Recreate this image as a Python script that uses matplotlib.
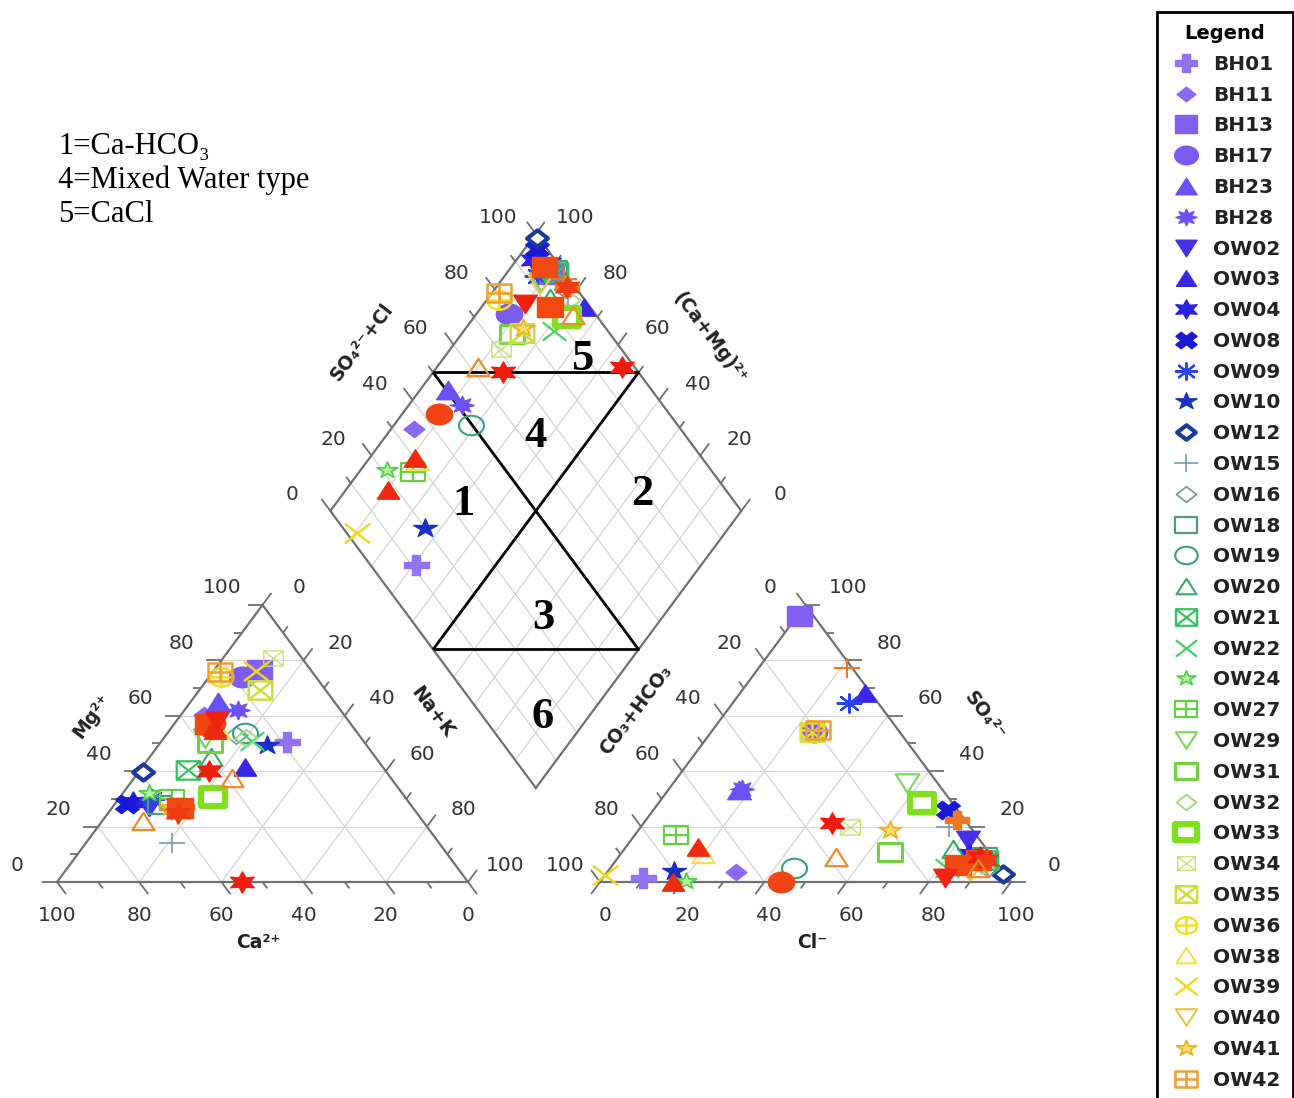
import numpy as np
import matplotlib
matplotlib.use("Agg")
import matplotlib.pyplot as plt
from matplotlib.path import Path
from matplotlib.markers import MarkerStyle

# ---------------------------------------------------------------- data (meq %)
samples = ["BH01", "BH11", "BH13", "BH17", "BH23", "BH28", "OW02", "OW03",
           "OW04", "OW08", "OW09", "OW10", "OW12", "OW15", "OW16", "OW18",
           "OW19", "OW20", "OW21", "OW22", "OW24", "OW27", "OW29", "OW31",
           "OW32", "OW33", "OW34", "OW35", "OW36", "OW38", "OW39", "OW40",
           "OW41", "OW42"]
mg = [50.7, 60.3, 76.5, 74.0, 65.0, 62.0, 27.0, 41.6, 29.0, 28.0, 30.0, 49.5,
      39.8, 14.0, 53.0, 27.8, 53.8, 45.0, 40.4, 51.0, 32.0, 30.0, 52.0, 50.2,
      52.0, 30.8, 80.7, 69.3, 74.0, 55.0, 76.0, 55.0, 27.0, 75.9]
na_k = [30.6, 5.5, 11.0, 8.0, 6.7, 13.0, 9.0, 24.9, 4.0, 3.0, 8.0, 26.3,
        1.1, 20.9, 17.0, 11.2, 18.8, 15.0, 11.7, 22.0, 6.4, 12.9, 10.0, 12.1,
        20.0, 22.6, 12.3, 14.7, 3.0, 12.0, 10.5, 10.0, 14.0, 1.7]
so4 = [1.3, 3.7, 96.0, 54.0, 33.2, 33.5, 15.2, 68.1, 10.0, 26.0, 64.5, 4.0,
       3.0, 20.0, 5.0, 9.1, 4.9, 12.0, 8.0, 5.0, 0.5, 17.0, 35.6, 10.9,
       6.0, 28.4, 19.9, 54.3, 55.0, 10.0, 2.5, 4.0, 18.8, 55.0]
cl = [9.8, 31.3, 0.5, 25.0, 17.3, 17.8, 82.0, 30.5, 84.7, 71.7, 28.3, 16.0,
      96.5, 75.0, 92.0, 89.1, 44.8, 80.0, 90.0, 82.0, 20.6, 10.1, 56.9, 65.2,
      90.0, 64.1, 51.0, 24.5, 24.0, 20.0, 0.0, 88.0, 61.2, 25.5]

# further samples of the series (drawn, listed further down the key)
extra_mg = [27.0, 26.0, 26.7, 57.0, 57.4, 56.0, 55.0, 58.0, 0.0, 40.0, 25.0, 22.0, 37.4]
extra_na_k = [17.0, 15.0, 16.6, 8.0, 9.0, 10.3, 11.0, 10.0, 45.0, 17.0, 17.0, 10.0, 23.8]
extra_so4 = [22.4, 77.1, 6.1, 8.0, 0.0, 0.0, 12.7, 1.3, 9.0, 21.2, 8.0, 9.1, 5.0]
extra_cl = [75.6, 21.6, 84.1, 88.0, 44.0, 17.7, 17.4, 83.3, 88.0, 45.9, 90.0, 52.8, 89.5]

ticks = [0, 20, 40, 60, 80, 100]
notes = ["1=Ca-HCO\u2083", "4=Mixed Water type", "5=CaCl"]
region_labels = ["1", "2", "3", "4", "5", "6"]
region_c = [0.69, 0.27, 0.29, 0.635, 0.66, 0.11]   # (Ca+Mg) fraction
region_a = [0.336, 0.79, 0.325, 0.635, 0.887, 0.145]  # (SO4+Cl) fraction

# ---------------------------------------------------------------- styles
colors = ["#9372f2", "#8a68f0", "#8460f0", "#7d5af0", "#6c4ff0", "#6a52f2",
          "#4630e8", "#3828e4", "#2a22e0", "#1a1ad6", "#2a44f2", "#1a30c4",
          "#1c3a9c", "#7a98b8", "#72a29e", "#4a9a88", "#38a272", "#3aaa66",
          "#3ac060", "#44d062", "#4cd048", "#62d040", "#7ad85a", "#70d240",
          "#a6d88e", "#80e020", "#c4e474", "#c8e040", "#f2e020", "#f2e244",
          "#f0d820", "#f0c040", "#f0b020", "#f0a030"]
extra_colors = ["#f07820", "#f07828", "#f04a12", "#f04a12", "#f04414", "#ee2a10",
                "#ee2a10", "#f02212", "#f01c10", "#f01c10", "#f03a10", "#ee8a2a",
                "#ee8a2a"]


def _sq():
    return Path([[-.5, -.5], [.5, -.5], [.5, .5], [-.5, .5], [-.5, -.5]],
                [Path.MOVETO, Path.LINETO, Path.LINETO, Path.LINETO, Path.CLOSEPOLY])


_cross_x = Path([[-.5, -.5], [.5, .5], [-.5, .5], [.5, -.5]],
                [Path.MOVETO, Path.LINETO, Path.MOVETO, Path.LINETO])
_cross_p = Path([[0, -.5], [0, .5], [-.5, 0], [.5, 0]],
                [Path.MOVETO, Path.LINETO, Path.MOVETO, Path.LINETO])
_circ = Path(Path.unit_circle().vertices * 0.5, Path.unit_circle().codes)

boxtimes = Path.make_compound_path(_sq(), _cross_x)
boxplus = Path.make_compound_path(_sq(), _cross_p)
circplus = Path.make_compound_path(_circ, _cross_p)


def squash(spec, ky=0.78):
    """Marker path flattened vertically to follow the diagram's aspect."""
    if isinstance(spec, Path):
        p = spec
    else:
        m = MarkerStyle(spec)
        p = m.get_path().transformed(m.get_transform())
    return Path(p.vertices * np.array([1.0, ky]), p.codes)


# (marker, filled, size, edge width)
styles = [
    ("P", True, 18, 1), ("D", True, 15, 1), ("s", True, 18, 1), ("o", True, 19, 1),
    ("^", True, 17, 1), ((8, 1, 0), True, 17, 1), ("v", True, 17, 1), ("^", True, 16, 1),
    ((6, 1, 0), True, 17, 1), ("X", True, 17, 1), ((8, 2, 0), False, 17, 1.6),
    ("*", True, 17, 1), ("D", "white", 15, 3.0), ("+", False, 19, 1.2),
    ("D", False, 16, 1.3), ("s", False, 17, 1.6), ("o", False, 18, 1.5),
    ("^", False, 16, 1.5), (boxtimes, False, 17, 1.6), ("x", False, 17, 1.6),
    ("*", "#b8f0a0", 15, 1.2), (boxplus, False, 17, 1.6), ("v", False, 17, 1.6),
    ("s", False, 17, 2.2), ("D", False, 16, 1.5), ("s", "white", 17, 4.5),
    (boxtimes, False, 14, 1.0), (boxtimes, False, 17, 1.8), (circplus, False, 17, 1.8),
    ("^", False, 16, 1.5), ("x", False, 18, 1.8), ("v", False, 17, 1.5),
    ("*", "#f8e070", 16, 1.3), (boxplus, False, 17, 1.8)]
extra_styles = [
    ("P", True, 17, 1), ("+", False, 19, 1.6), ("s", True, 19, 1), ("s", True, 18, 1),
    ("o", True, 19, 1), ("^", True, 16, 1), ("^", True, 16, 1), ("v", True, 17, 1),
    ((6, 1, 0), True, 17, 1), ((6, 1, 0), True, 17, 1), ((6, 1, 0), True, 17, 1),
    ("^", False, 16, 1.6), ("^", False, 16, 1.6)]

# ---------------------------------------------------------------- geometry
H = np.sqrt(3) / 2
GAP = 0.321               # spacing between the two triangles (side = 1)
DX, DY = 1.165, 0.294     # lower vertex of the diamond


def cat_xy(m, n):
    return n / 100 + 0.5 * m / 100, H * m / 100


def an_xy(s, c):
    return 1 + GAP + c / 100 + 0.5 * s / 100, H * s / 100


def dia_xy(c, a):
    return DX + 0.5 * (a - c), DY + H * (c + a)


plt.rcParams["font.family"] = ["DejaVu Sans"]
fig = plt.figure(figsize=(12.94, 10.98), dpi=100)
ax = fig.add_axes([0, 0, 1, 1])
ax.set_xlim(-0.1387, 3.0097)
ax.set_ylim(-0.6752, 2.7571)
ax.axis("off")

SX = 1294 / (3.0097 + 0.1387)      # pixels per unit, x
SY = 1098 / (2.7571 + 0.6752)      # pixels per unit, y

EDGE = "#707070"
GRID = "#d4d4d4"
TXT = "#333333"


def seg(p, q, **kw):
    ax.plot([p[0], q[0]], [p[1], q[1]], solid_capstyle="butt", **kw)


def tick(p, d, v):
    length = 15 if v % 20 == 0 else 8
    n = np.hypot(d[0] * SX, d[1] * SY)
    q = (p[0] + d[0] * length / n, p[1] + d[1] * length / n)
    seg(p, q, color=EDGE, lw=1.3, zorder=2)


def label(p, v, off):
    ax.annotate(str(v), p, xytext=(off[0] * 0.72, -off[1] * 0.72),
                textcoords="offset points", ha="center", va="center",
                fontsize=14.5, color=TXT)


# grids
for v in [20, 40, 60, 80]:
    w = 100 - v
    seg(cat_xy(v, 0), cat_xy(v, w), color=GRID, lw=0.9, zorder=1)
    seg(cat_xy(0, v), cat_xy(w, v), color=GRID, lw=0.9, zorder=1)
    seg(cat_xy(0, w), cat_xy(w, 0), color=GRID, lw=0.9, zorder=1)
    seg(an_xy(v, 0), an_xy(v, w), color=GRID, lw=0.9, zorder=1)
    seg(an_xy(0, v), an_xy(w, v), color=GRID, lw=0.9, zorder=1)
    seg(an_xy(0, w), an_xy(w, 0), color=GRID, lw=0.9, zorder=1)
for v in np.arange(10, 100, 10):
    seg(dia_xy(v / 100, 0), dia_xy(v / 100, 1), color=GRID, lw=0.9, zorder=1)
    seg(dia_xy(0, v / 100), dia_xy(1, v / 100), color=GRID, lw=0.9, zorder=1)

# outlines
for pts in ([cat_xy(0, 0), cat_xy(0, 100), cat_xy(100, 0), cat_xy(0, 0)],
            [an_xy(0, 0), an_xy(0, 100), an_xy(100, 0), an_xy(0, 0)],
            [dia_xy(0, 0), dia_xy(1, 0), dia_xy(1, 1), dia_xy(0, 1), dia_xy(0, 0)]):
    xs, ys = zip(*pts)
    ax.plot(xs, ys, color=EDGE, lw=1.6, zorder=2, solid_joinstyle="miter")

# ticks
for v in range(0, 101, 10):
    tick(cat_xy(v, 0), (-1, 0), v)
    tick(cat_xy(100 - v, v), (0.5, H), v)
    tick(cat_xy(0, 100 - v), (0.5, -H), v)
    tick(an_xy(100 - v, 0), (-0.5, H), v)
    tick(an_xy(v, 100 - v), (1, 0), v)
    tick(an_xy(0, v), (-0.5, -H), v)
    tick(dia_xy(1, v / 100), (-0.5, H), v)
    tick(dia_xy(v / 100, 1), (0.5, H), v)

# tick labels
for v in ticks:
    label(cat_xy(v, 0), v, (-40, -17))
    label(cat_xy(100 - v, v), v, (37, -17))
    label(cat_xy(0, 100 - v), v, (0, 33))
    label(an_xy(100 - v, 0), v, (-35, -17))
    label(an_xy(v, 100 - v), v, (43, -17))
    label(an_xy(0, v), v, (5, 33))
    label(dia_xy(1, v / 100), v, (-38, -16))
    label(dia_xy(v / 100, 1), v, (39, -16))

# water-type fields
for (c0, a0), (c1, a1) in [((1, .5), (.5, 1)), ((.5, 1), (.5, 0)),
                           ((1, .5), (0, .5)), ((.5, 0), (0, .5))]:
    seg(dia_xy(c0, a0), dia_xy(c1, a1), color="black", lw=2.0, zorder=2.5)
serif = ["Liberation Serif", "DejaVu Serif"]
for t, c, a in zip(region_labels, region_c, region_a):
    ax.text(*dia_xy(c, a), t, family=serif, fontsize=32, fontweight="bold",
            ha="center", va="center", zorder=2.6)


# axis titles
def ftext(px, py, s, rot=0, **kw):
    fig.text(px / 1294, 1 - py / 1098, s, rotation=rot, ha="center", va="center",
             fontsize=13.5, fontweight="bold", color="#222222",
             rotation_mode="anchor", **kw)


ftext(258, 942, "Ca\u00b2\u207a")
ftext(812, 942, "Cl\u207b")
ftext(92, 716, "Mg\u00b2\u207a", 53)
ftext(432, 712, "Na+K", -53)
ftext(362, 342, "SO\u2084\u00b2\u207b+Cl", 53)
ftext(710, 338, "(Ca+Mg)\u00b2\u207a", -53)
ftext(636, 710, "CO\u2083+HCO\u2083", 53)
ftext(985, 716, "SO\u2084\u00b2\u207b", -53)

for i, s in enumerate(notes):
    fig.text(58 / 1294, 1 - (146 + 34 * i) / 1098, s, family=serif, fontsize=22,
             ha="left", va="center")


# ---------------------------------------------------------------- samples
def draw(m, n, s, c, col, sty, lab, z):
    mk, filled, ms, mew = sty
    x0, y0 = cat_xy(m, n)
    x1, y1 = an_xy(s, c)
    x2, y2 = dia_xy((100 - n) / 100, (s + c) / 100)
    if filled is True:
        fc = col
    elif filled is False:
        fc = "none"
    else:
        fc = filled
    ax.plot([x0, x1, x2], [y0, y1, y2], ls="none", marker=squash(mk),
            ms=ms, mfc=fc, mec=col, mew=mew, label=lab, zorder=z)


for i in range(len(samples)):
    draw(mg[i], na_k[i], so4[i], cl[i], colors[i], styles[i], samples[i], 3)
for i in range(len(extra_mg)):
    draw(extra_mg[i], extra_na_k[i], extra_so4[i], extra_cl[i], extra_colors[i],
         extra_styles[i], "_nolegend_", 4)

leg = ax.legend(loc="upper left", bbox_to_anchor=(1157 / 1294, 1 - 12 / 1098),
                bbox_transform=fig.transFigure, borderaxespad=0, frameon=True,
                fancybox=False, framealpha=1, edgecolor="black", numpoints=1,
                markerscale=0.9, handlelength=1.7, handletextpad=0.5,
                borderpad=0.6, labelspacing=0.585, title="Legend",
                prop={"size": 14.5, "weight": "bold"},
                title_fontproperties={"size": 14, "weight": "bold"})
leg.get_frame().set_linewidth(2)
for t in leg.get_texts():
    t.set_color("#222222")

fig.savefig("out.png", dpi=100)
